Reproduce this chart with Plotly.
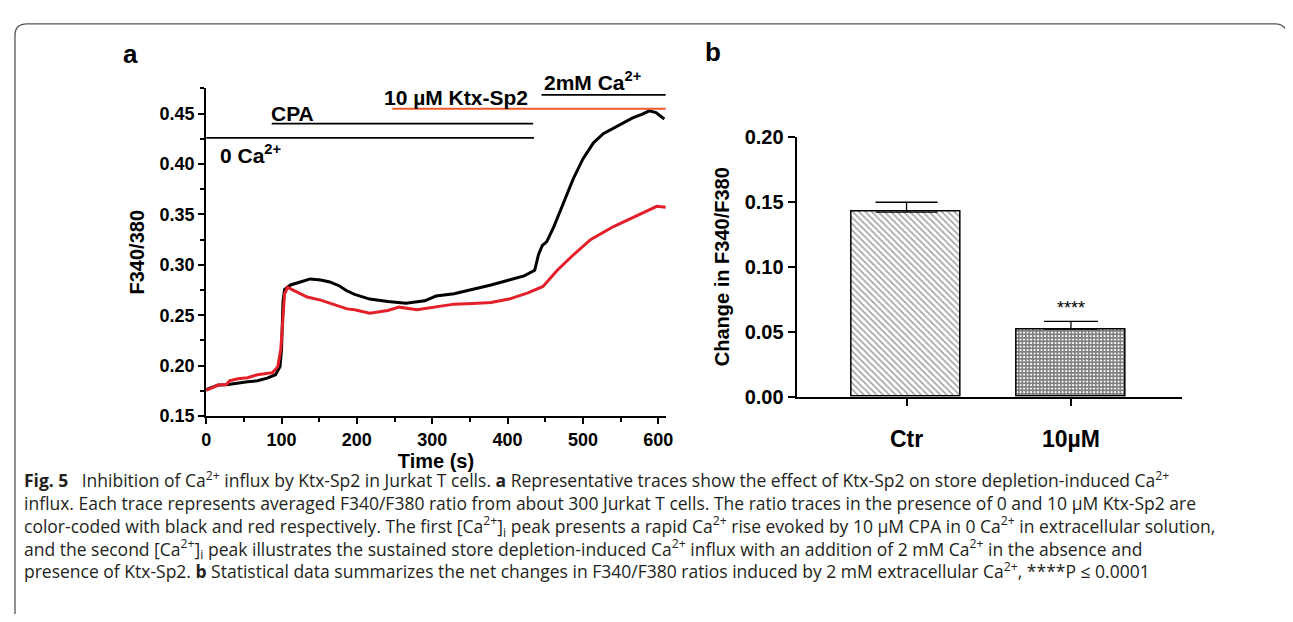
import plotly.graph_objects as go

# page is 1293x622 with the browser's default 8px body margin
OFF = 8
W, H = 1293 - 2 * OFF, 622 - 2 * OFF

# ---------------- data: panel a (F340/380 traces) ----------------
t_black = [0, 16, 27, 42, 55, 68, 81, 92, 98, 100, 102, 104, 112, 125, 138, 152, 164, 177, 186,
           197, 217, 241, 265, 290, 305, 329, 354, 378, 402, 422, 436, 441, 446, 452, 461, 474,
           487, 500, 514, 527, 540, 553, 566, 579, 588, 597, 608]
v_black = [0.1764, 0.1807, 0.1810, 0.1830, 0.1840, 0.1850, 0.1876, 0.1910, 0.1990, 0.2160, 0.2640,
           0.2755, 0.2800, 0.2830, 0.2860, 0.2850, 0.2830, 0.2790, 0.2745, 0.2707, 0.2660, 0.2636,
           0.2620, 0.2643, 0.2690, 0.2713, 0.2755, 0.2800, 0.2850, 0.2890, 0.2946, 0.3100, 0.3190,
           0.3230, 0.3370, 0.3620, 0.3850, 0.4050, 0.4210, 0.4300, 0.4350, 0.4400, 0.4457, 0.4495,
           0.4527, 0.4510, 0.4447]

t_red = [0, 16, 27, 31, 42, 55, 68, 77, 88, 95, 99, 102, 104, 108, 121, 134, 152, 169, 187, 197,
         217, 241, 256, 280, 305, 329, 354, 378, 402, 427, 447, 466, 486, 510, 540, 569, 598, 610]
v_red = [0.1755, 0.1807, 0.1813, 0.1850, 0.1870, 0.1880, 0.1910, 0.1920, 0.1930, 0.1990, 0.2160,
         0.2480, 0.2710, 0.2777, 0.2730, 0.2680, 0.2650, 0.2610, 0.2563, 0.2554, 0.2520, 0.2547,
         0.2580, 0.2554, 0.2580, 0.2610, 0.2617, 0.2627, 0.2660, 0.2722, 0.2786, 0.2946, 0.3090,
         0.3250, 0.3377, 0.3480, 0.3580, 0.3570]

# treatment bars: (label, start time, end time, level)
treat_labels = ["0 Ca<sup>2+</sup>", "CPA", "10 µM Ktx-Sp2", "2mM Ca<sup>2+</sup>"]
treat_start = [0, 87, 247, 445]
treat_end = [435, 434, 610, 610]
treat_level = [0.426, 0.440, 0.4548, 0.4685]

# ---------------- data: panel b (bars) ----------------
bar_cats = ["Ctr", "10µM"]
bar_vals = [0.142, 0.052]
bar_err = [0.0075, 0.006]

caption_lines = [
    "<b>Fig. 5</b>\u2002 Inhibition of Ca<sup>2+</sup> influx by Ktx-Sp2 in Jurkat T cells. <b>a</b> Representative traces show the effect of Ktx-Sp2 on store depletion-induced Ca<sup>2+</sup>",
    "influx. Each trace represents averaged F340/F380 ratio from about 300 Jurkat T cells. The ratio traces in the presence of 0 and 10 µM Ktx-Sp2 are",
    "color-coded with black and red respectively. The first [Ca<sup>2+</sup>]<sub>i</sub> peak presents a rapid Ca<sup>2+</sup> rise evoked by 10 µM CPA in 0 Ca<sup>2+</sup> in extracellular solution,",
    "and the second [Ca<sup>2+</sup>]<sub>i</sub> peak illustrates the sustained store depletion-induced Ca<sup>2+</sup> influx with an addition of 2 mM Ca<sup>2+</sup> in the absence and",
    "presence of Ktx-Sp2. <b>b</b> Statistical data summarizes the net changes in F340/F380 ratios induced by 2 mM extracellular Ca<sup>2+</sup>, ****P ≤ 0.0001",
]


def px(x):
    return (x - OFF) / W


def py(y):
    return 1 - (y - OFF) / H


FONT = "Liberation Sans, Arial, sans-serif"
BOLD = dict(family=FONT, weight="bold", color="black")

fig = go.Figure()

fig.add_trace(go.Scatter(x=t_black, y=v_black, mode="lines", line=dict(color="black", width=3),
                         xaxis="x", yaxis="y", showlegend=False, hoverinfo="skip"))
fig.add_trace(go.Scatter(x=t_red, y=v_red, mode="lines", line=dict(color="#e3202a", width=3),
                         xaxis="x", yaxis="y", showlegend=False, hoverinfo="skip"))

fig.add_trace(go.Bar(
    x=[bar_cats[0]], y=[bar_vals[0]], width=0.663, xaxis="x2", yaxis="y2", showlegend=False,
    marker=dict(color="white", line=dict(color="black", width=1.5),
                pattern=dict(shape="\\", fgcolor="#444444", bgcolor="white", size=4.5, solidity=0.35)),
    error_y=dict(type="data", symmetric=False, array=[bar_err[0]], arrayminus=[0],
                 color="black", thickness=1.3, width=31),
))
fig.add_trace(go.Bar(
    x=[bar_cats[1]], y=[bar_vals[1]], width=0.663, xaxis="x2", yaxis="y2", showlegend=False,
    marker=dict(color="white", line=dict(color="black", width=1.5),
                pattern=dict(shape="+", fgcolor="#000000", bgcolor="white", size=3.5, solidity=0.72)),
    error_y=dict(type="data", symmetric=False, array=[bar_err[1]], arrayminus=[0],
                 color="black", thickness=1.3, width=27),
))

shapes = []
for i, (s, e, lv) in enumerate(zip(treat_start, treat_end, treat_level)):
    col = "#ee5a2a" if i == 2 else "black"
    shapes.append(dict(type="line", xref="x", yref="y", x0=s, x1=e, y0=lv, y1=lv,
                       line=dict(color=col, width=1.8)))

# border frame (top & left, rounded corners)
r = 12
border_path = (f"M {px(10)},{py(640)} L {px(10)},{py(13 + r)} "
               f"Q {px(10)},{py(13)} {px(10 + r)},{py(13)} "
               f"L {px(1282)},{py(13)} Q {px(1290)},{py(13)} {px(1293)},{py(19)}")
shapes.append(dict(type="path", xref="paper", yref="paper", path=border_path,
                   line=dict(color="#555555", width=1.3)))

annotations = []
# treatment labels
treat_label_pos = [(215, 148), (266, 106), (380, 89), (542, 72)]
for lab, (x, y) in zip(treat_labels, treat_label_pos):
    annotations.append(dict(text=lab, x=px(x), y=py(y), xref="paper", yref="paper",
                            xanchor="left", yanchor="middle", showarrow=False,
                            font=dict(size=21, **BOLD)))

# panel letters
annotations.append(dict(text="a", x=px(117), y=py(44), xref="paper", yref="paper", xanchor="left",
                        yanchor="middle", showarrow=False, font=dict(size=26, **BOLD)))
annotations.append(dict(text="b", x=px(705), y=py(42), xref="paper", yref="paper", xanchor="left",
                        yanchor="middle", showarrow=False, font=dict(size=26, **BOLD)))

# significance stars
annotations.append(dict(text="****", x=bar_cats[1], y=bar_vals[1] + bar_err[1], xref="x2", yref="y2",
                        xanchor="center", yanchor="bottom", yshift=1, showarrow=False,
                        font=dict(size=18, family=FONT, color="black")))

# caption (one multi-line text block)
annotations.append(dict(text="<br>".join(caption_lines), x=px(17), y=py(533), xref="paper", yref="paper",
                        xanchor="left", yanchor="middle", align="left", showarrow=False,
                        font=dict(size=17.5, family="Open Sans", color="#231f20")))

axis_common = dict(showline=True, linecolor="black", linewidth=2, ticks="outside", ticklen=6,
                   tickwidth=2, tickcolor="black", showgrid=False, zeroline=False,
                   tickfont=dict(size=18, **BOLD))

fig.update_layout(
    width=W, height=H, autosize=False,
    margin=dict(l=0, r=0, t=0, b=0),
    paper_bgcolor="white", plot_bgcolor="white",
    xaxis=dict(domain=[px(203), px(667)], range=[0, 610], anchor="y", tickmode="array",
               tickvals=[0, 100, 200, 300, 400, 500, 600],
               minor=dict(ticks="outside", ticklen=4, tickwidth=1.5, tickcolor="black", dtick=50, tick0=0),
               title=dict(text="Time (s)", font=dict(size=20, **BOLD), standoff=4),
               **axis_common),
    yaxis=dict(domain=[py(420), py(80)], range=[0.15, 0.475], anchor="x", tickmode="array",
               tickvals=[0.15, 0.20, 0.25, 0.30, 0.35, 0.40, 0.45], tickformat=".2f",
               minor=dict(ticks="outside", ticklen=4, tickwidth=1.5, tickcolor="black", dtick=0.025, tick0=0.15),
               title=dict(text="F340/380", font=dict(size=20, **BOLD), standoff=10),
               **axis_common),
    xaxis2=dict(domain=[px(799), px(1188)], range=[-0.669, 1.675], anchor="y2", type="category",
                categoryorder="array", categoryarray=bar_cats, ticklabelstandoff=14,
                **{**axis_common, "tickfont": dict(size=23, **BOLD), "ticklen": 7}),
    yaxis2=dict(domain=[py(400), py(130)], range=[0, 0.2], anchor="x2", tickmode="array",
                tickvals=[0, 0.05, 0.10, 0.15, 0.20], tickformat=".2f",
                title=dict(text="Change in F340/F380", font=dict(size=20, **BOLD), standoff=10),
                **{**axis_common, "tickfont": dict(size=20, **BOLD), "ticklen": 7}),
    shapes=shapes,
    annotations=annotations,
    bargap=0,
)

fig.write_html("out.html", config={"displayModeBar": False})
